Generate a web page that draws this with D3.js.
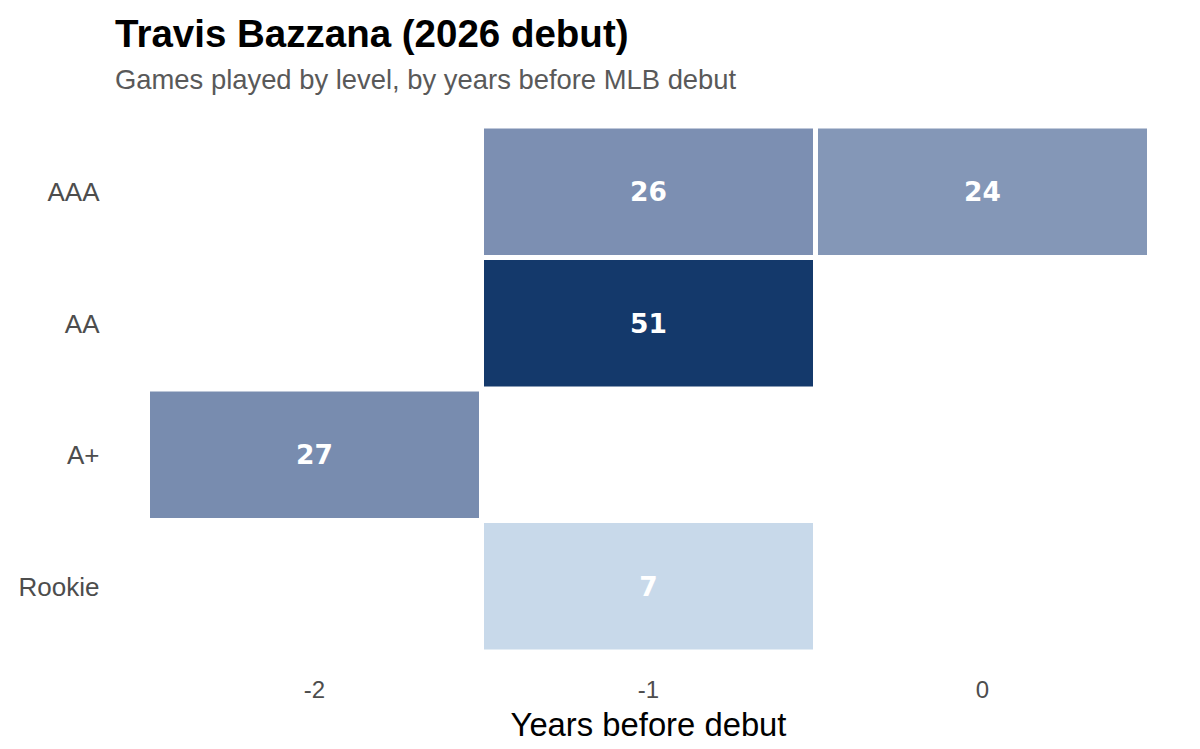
<!DOCTYPE html>
<html>
<head>
<meta charset="utf-8">
<script src="https://cdn.jsdelivr.net/npm/d3@7"></script>
<style>
  body { margin: 0; background: #fff; }
  svg text { font-family: "Liberation Sans", Arial, sans-serif; }
</style>
</head>
<body>
<div id="chart"></div>
<script>
const width = 1200;
const height = 749;

// data
const years = [-2, -1, 0];
const levels = ["AAA", "AA", "A+", "Rookie"];
const cellYears = [-1, 0, -1, -2, -1];
const cellLevels = ["AAA", "AAA", "AA", "A+", "Rookie"];
const cellGames = [26, 24, 51, 27, 7];

const cells = cellGames.map((g, i) => ({ year: cellYears[i], level: cellLevels[i], games: g }));

const margin = { top: 126, right: 50.5, bottom: 97, left: 147.5 };

const svg = d3
  .select("#chart")
  .append("svg")
  .attr("width", width)
  .attr("height", height)
  .attr("viewBox", [0, 0, width, height]);

let x = d3
  .scaleBand()
  .domain(years)
  .range([margin.left, width - margin.right]);

let y = d3
  .scaleBand()
  .domain(levels)
  .range([margin.top, height - margin.bottom]);

let color = d3
  .scaleLinear()
  .domain(d3.extent(cellGames))
  .range(["#c8d9ea", "#14396b"])
  .interpolate(d3.interpolateLab);

// title + subtitle
svg
  .append("text")
  .attr("x", 115)
  .attr("y", 47)
  .attr("font-size", "38.5px")
  .attr("font-weight", "bold")
  .attr("fill", "#000")
  .text("Travis Bazzana (2026 debut)");

svg
  .append("text")
  .attr("x", 115)
  .attr("y", 89)
  .attr("font-size", "27.4px")
  .attr("fill", "#595959")
  .text("Games played by level, by years before MLB debut");

// tiles
const g = svg.append("g");

g.selectAll("rect")
  .data(cells)
  .join("rect")
  .attr("x", (d) => x(d.year))
  .attr("y", (d) => y(d.level))
  .attr("width", x.bandwidth())
  .attr("height", y.bandwidth())
  .attr("fill", (d) => color(d.games))
  .attr("stroke", "#fff")
  .attr("stroke-width", 5);

g.selectAll("text")
  .data(cells)
  .join("text")
  .attr("x", (d) => x(d.year) + x.bandwidth() / 2)
  .attr("y", (d) => y(d.level) + y.bandwidth() / 2)
  .attr("text-anchor", "middle")
  .attr("dominant-baseline", "central")
  .style("font-family", "'DejaVu Sans', sans-serif")
  .attr("font-weight", "bold")
  .attr("font-size", "26.5px")
  .attr("fill", "#fff")
  .text((d) => d.games);

// y axis labels (no lines)
const yAxis = svg
  .append("g")
  .attr("transform", `translate(${margin.left},0)`)
  .call(d3.axisLeft(y).tickSize(0).tickPadding(48));
yAxis.select(".domain").remove();
yAxis
  .selectAll("text")
  .style("font-family", "'Liberation Sans', Arial, sans-serif")
  .attr("font-size", "26px")
  .attr("dy", "0.36em")
  .attr("fill", "#4d4d4d");

// x axis labels
const xAxis = svg
  .append("g")
  .attr("transform", `translate(0,${height - margin.bottom})`)
  .call(d3.axisBottom(x).tickSize(0).tickPadding(29));
xAxis.select(".domain").remove();
xAxis
  .selectAll("text")
  .style("font-family", "'Liberation Sans', Arial, sans-serif")
  .attr("font-size", "24px")
  .attr("fill", "#4d4d4d");

svg
  .append("text")
  .attr("x", x.range()[0] + (x.range()[1] - x.range()[0]) / 2)
  .attr("y", 736)
  .attr("text-anchor", "middle")
  .attr("font-size", "32.8px")
  .attr("fill", "#000")
  .text("Years before debut");
</script>
</body>
</html>
